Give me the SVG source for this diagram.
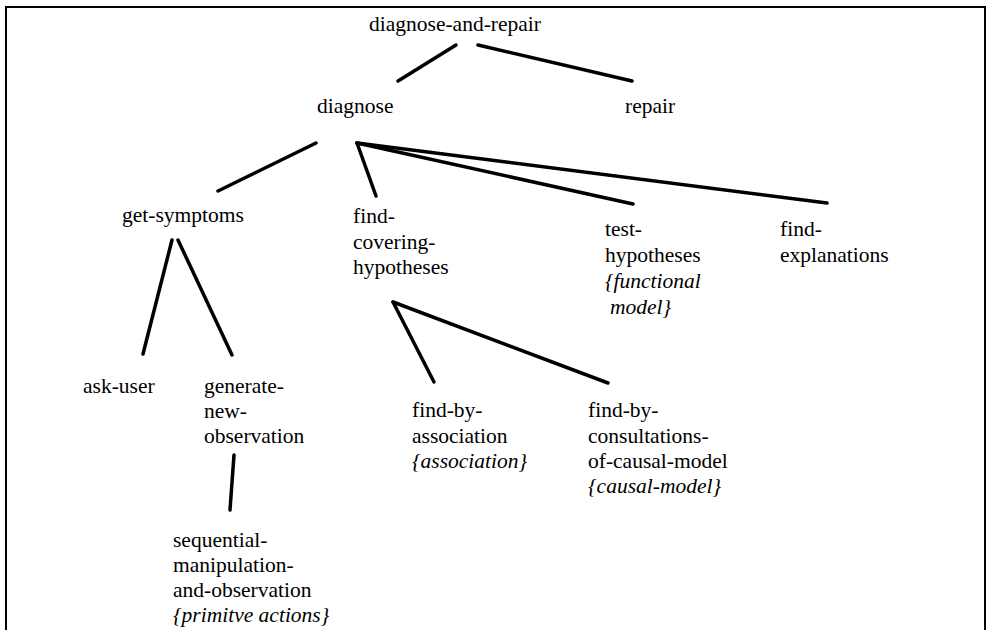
<svg xmlns="http://www.w3.org/2000/svg" width="991" height="630" viewBox="0 0 991 630">
  <style>
    .lbl text { font-size: 21.5px; fill: #000; }
    .it { font-style: italic; }
    .edge { stroke: #000; stroke-width: 3.5; stroke-linecap: round; fill: none; }
  </style>
  <rect x="0" y="0" width="991" height="630" fill="#fff"/>
  <!-- frame (open at the bottom edge) -->
  <rect x="6" y="7" width="979" height="660" fill="none" stroke="#000" stroke-width="2"/>

  <g id="connectors">
    <line class="edge" x1="456" y1="45" x2="398" y2="81"/>
    <line class="edge" x1="478" y1="45" x2="632" y2="81"/>
    <line class="edge" x1="316" y1="143" x2="218" y2="191"/>
    <line class="edge" x1="357" y1="143" x2="376" y2="196"/>
    <line class="edge" x1="357" y1="143" x2="633" y2="204"/>
    <line class="edge" x1="357" y1="143" x2="827" y2="203"/>
    <line class="edge" x1="172" y1="240" x2="143" y2="354"/>
    <line class="edge" x1="178" y1="240" x2="232" y2="355"/>
    <line class="edge" x1="234" y1="455" x2="230" y2="510"/>
    <line class="edge" x1="393" y1="302" x2="434" y2="382"/>
    <line class="edge" x1="393" y1="302" x2="608" y2="383"/>
  </g>

  <g class="lbl" font-family="'Liberation Serif', 'DejaVu Serif', 'Times New Roman', serif">
    <g id="diagnose-and-repair"><text x="369" y="31">diagnose-and-repair</text></g>
    <g id="diagnose"><text x="317" y="113">diagnose</text></g>
    <g id="repair"><text x="625" y="113">repair</text></g>
    <g id="get-symptoms"><text x="122" y="222">get-symptoms</text></g>
    <g id="find-covering-hypotheses">
      <text x="353" y="223">find-</text>
      <text x="353" y="249">covering-</text>
      <text x="353" y="274">hypotheses</text>
    </g>
    <g id="test-hypotheses">
      <text x="605" y="236">test-</text>
      <text x="605" y="262">hypotheses</text>
      <text x="605" y="288" class="it">{functional</text>
      <text x="610" y="314" class="it">model}</text>
    </g>
    <g id="find-explanations">
      <text x="780" y="236">find-</text>
      <text x="780" y="262">explanations</text>
    </g>
    <g id="ask-user"><text x="83" y="393">ask-user</text></g>
    <g id="generate-new-observation">
      <text x="204" y="393">generate-</text>
      <text x="204" y="418">new-</text>
      <text x="204" y="443">observation</text>
    </g>
    <g id="sequential-manipulation-and-observation">
      <text x="173" y="547">sequential-</text>
      <text x="173" y="572">manipulation-</text>
      <text x="173" y="597">and-observation</text>
      <text x="173" y="622" class="it">{primitve actions}</text>
    </g>
    <g id="find-by-association">
      <text x="412" y="417">find-by-</text>
      <text x="412" y="443">association</text>
      <text x="412" y="468" class="it">{association}</text>
    </g>
    <g id="find-by-consultations-of-causal-model">
      <text x="588" y="417">find-by-</text>
      <text x="588" y="443">consultations-</text>
      <text x="588" y="468">of-causal-model</text>
      <text x="588" y="493" class="it">{causal-model}</text>
    </g>
  </g>
</svg>
